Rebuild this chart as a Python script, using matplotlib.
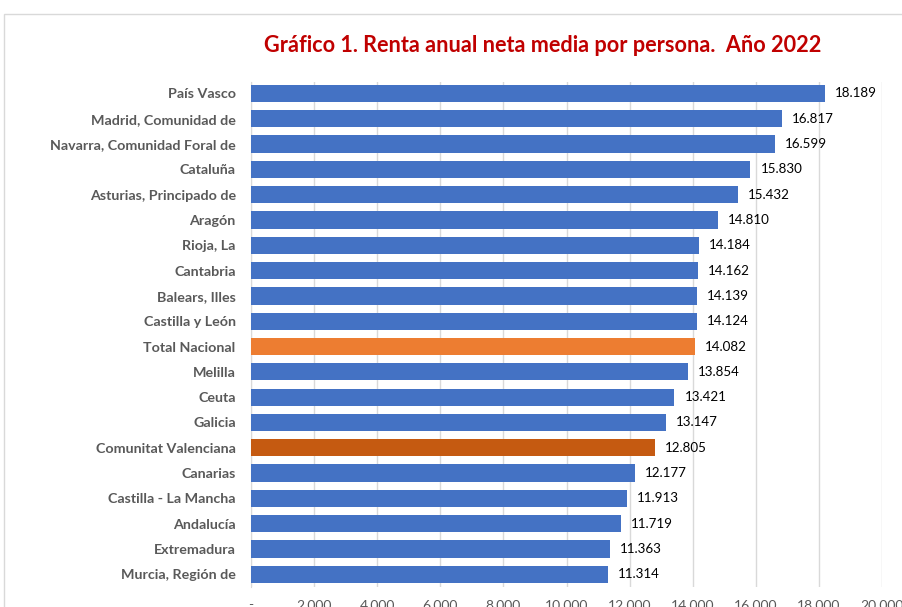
import matplotlib.pyplot as plt
from matplotlib.patches import Rectangle
from matplotlib.ticker import FuncFormatter

regiones = ["País Vasco", "Madrid, Comunidad de", "Navarra, Comunidad Foral de",
            "Cataluña", "Asturias, Principado de", "Aragón", "Rioja, La",
            "Cantabria", "Balears, Illes", "Castilla y León", "Total Nacional",
            "Melilla", "Ceuta", "Galicia", "Comunitat Valenciana", "Canarias",
            "Castilla - La Mancha", "Andalucía", "Extremadura", "Murcia, Región de"]
renta = [18189, 16817, 16599, 15830, 15432, 14810, 14184, 14162, 14139, 14124,
         14082, 13854, 13421, 13147, 12805, 12177, 11913, 11719, 11363, 11314]
ticks = list(range(0, 20001, 2000))

azul = "#4472C4"
colores = []
for r in regiones:
    if r == "Total Nacional":
        colores.append("#ED7D31")
    elif r == "Comunitat Valenciana":
        colores.append("#C55A11")
    else:
        colores.append(azul)

plt.rcParams['font.family'] = ['Lato', 'DejaVu Sans']

fig = plt.figure(figsize=(9.02, 6.07), dpi=100)
ax = fig.add_axes([251/902, 1-587/607, (882-251)/902, (587-82)/607])

# marco del grafico
fig.patches.append(Rectangle((4/902, -0.1), 1.0, 1-14/607+0.1, transform=fig.transFigure,
                             fill=False, edgecolor="#D9D9D9", linewidth=1))

y = list(range(len(regiones)))
bars = ax.barh(y, renta, height=0.68, color=colores, zorder=3)

for yi, v in zip(y, renta):
    ax.text(v + 320, yi, f"{v:,}".replace(",", "."), va="center", ha="left",
            fontsize=9.6, color="#000000")

ax.set_ylim(19.5, -0.45)
ax.set_xlim(0, 20000)
ax.set_xticks(ticks)
ax.xaxis.set_major_formatter(FuncFormatter(lambda v, p: "-" if v == 0 else f"{int(v):,}".replace(",", ".")))
ax.set_yticks(y)
ax.set_yticklabels(regiones, fontweight="bold", fontsize=10.3, color="#595959")
ax.tick_params(axis="x", length=0, pad=9, labelsize=10, labelcolor="#595959")
ax.tick_params(axis="y", length=0, pad=11)
ax.grid(axis="x", color="#D9D9D9", linewidth=1, zorder=0)
for s in ["top", "right", "bottom"]:
    ax.spines[s].set_visible(False)
ax.spines["left"].set_color("#D9D9D9")

fig.text(543/902, 1-45/607, "Gráfico 1. Renta anual neta media por persona.  Año 2022",
         ha="center", va="center", fontsize=15.6, fontweight="bold", color="#C00000")

fig.savefig("out.png", dpi=100)
